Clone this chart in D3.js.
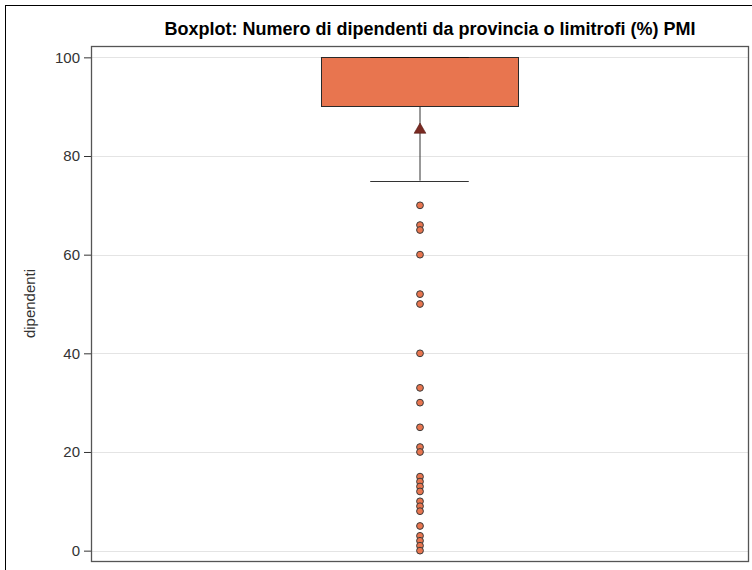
<!DOCTYPE html>
<html>
<head>
<meta charset="utf-8">
<script src="https://cdn.jsdelivr.net/npm/d3@7"></script>
<style>
  html, body { margin: 0; padding: 0; background: #fff; }
  svg { display: block; font-family: "Liberation Sans", Arial, sans-serif; }
</style>
</head>
<body>
<svg id="chart" width="752" height="570"></svg>
<script>
// ---- data ----
const categories = ["PMI"];
const boxQ1 = [90];
const boxMedian = [100];
const boxQ3 = [100];
const whiskerLow = [75];
const whiskerHigh = [100];
const meanValue = [85.3];
const outliers = [70, 66, 65, 60, 52, 50, 40, 33, 30, 25, 21, 20, 15, 14, 13, 12, 10, 9, 8, 5, 3, 2, 1, 0];
const yTicks = [0, 20, 40, 60, 80, 100];
const titleText = "Boxplot: Numero di dipendenti da provincia o limitrofi (%) PMI";
const yLabel = "dipendenti";

// ---- layout ----
const W = 752, H = 570;
const plot = { left: 91, top: 46, right: 748, bottom: 561 };
const svg = d3.select("#chart");

// outer frame
svg.append("rect").attr("x", 5.5).attr("y", 5.5).attr("width", W + 20).attr("height", H + 20)
  .attr("fill", "none").attr("stroke", "#000").attr("stroke-width", 1);

const y = d3.scaleLinear().domain([-2.1, 102.3]).range([plot.bottom, plot.top]);
const x = d3.scaleBand().domain(categories).range([plot.left, plot.right]).padding(0);

// gridlines
svg.append("g").selectAll("line").data(yTicks).join("line")
  .attr("x1", plot.left).attr("x2", plot.right)
  .attr("y1", d => Math.round(y(d)) + 0.5).attr("y2", d => Math.round(y(d)) + 0.5)
  .attr("stroke", "#e4e4e4").attr("stroke-width", 1);

// y axis
const yAxis = d3.axisLeft(y).tickValues(yTicks).tickSize(7).tickPadding(4).tickFormat(d3.format("d"));
const gy = svg.append("g").attr("transform", `translate(${plot.left},0)`).call(yAxis);
gy.select(".domain").remove();
gy.selectAll(".tick line").attr("stroke", "#333");
gy.selectAll(".tick text").attr("fill", "#333").style("font-size", "15px")
  .style("font-family", "'Liberation Sans', Arial, sans-serif");

// box
categories.forEach((c, i) => {
  const cx = x(c) + x.bandwidth() / 2;
  const bw = x.bandwidth() * 0.3;
  const capW = bw / 2;
  const g = svg.append("g");
  // whisker line
  g.append("line").attr("x1", cx + 0.5).attr("x2", cx + 0.5)
    .attr("y1", y(whiskerLow[i])).attr("y2", y(boxQ1[i]))
    .attr("stroke", "#333").attr("stroke-width", 1);
  g.append("line").attr("x1", cx - capW / 2).attr("x2", cx + capW / 2)
    .attr("y1", Math.round(y(whiskerLow[i])) + 0.5).attr("y2", Math.round(y(whiskerLow[i])) + 0.5)
    .attr("stroke", "#333").attr("stroke-width", 1);
  g.append("line").attr("x1", cx + 0.5).attr("x2", cx + 0.5)
    .attr("y1", y(whiskerHigh[i])).attr("y2", y(boxQ3[i]))
    .attr("stroke", "#333").attr("stroke-width", 1);
  // box rect
  g.append("rect").attr("x", Math.round(cx - bw / 2) + 0.5).attr("y", Math.round(y(boxQ3[i])) + 0.5)
    .attr("width", Math.round(bw)).attr("height", Math.round(y(boxQ1[i]) - y(boxQ3[i])))
    .attr("fill", "#E8754F").attr("stroke", "#2a2a2a").attr("stroke-width", 1);
  // median
  g.append("line").attr("x1", cx - bw / 2).attr("x2", cx + bw / 2)
    .attr("y1", Math.round(y(boxMedian[i])) + 0.5).attr("y2", Math.round(y(boxMedian[i])) + 0.5)
    .attr("stroke", "#2a2a2a").attr("stroke-width", 1);
  // upper cap
  g.append("line").attr("x1", cx - capW / 2).attr("x2", cx + capW / 2)
    .attr("y1", Math.round(y(whiskerHigh[i])) + 0.5).attr("y2", Math.round(y(whiskerHigh[i])) + 0.5)
    .attr("stroke", "#111").attr("stroke-width", 1.2);
  // mean triangle
  const tri = d3.symbol().type(d3.symbolTriangle).size(60);
  g.append("path").attr("d", tri())
    .attr("transform", `translate(${cx + 0.5},${y(meanValue[i])})`)
    .attr("fill", "#7A2A22").attr("stroke", "#5a1e18").attr("stroke-width", 0.6);
  // outliers
  g.selectAll("circle").data(outliers).join("circle")
    .attr("cx", cx + 0.5).attr("cy", d => y(d)).attr("r", 3.4)
    .attr("fill", "#E8754F").attr("stroke", "#3a3a3a").attr("stroke-width", 1);
});

// plot frame
svg.append("rect").attr("x", plot.left + 0.5).attr("y", plot.top + 0.5)
  .attr("width", plot.right - plot.left).attr("height", plot.bottom - plot.top)
  .attr("fill", "none").attr("stroke", "#555").attr("stroke-width", 1.3);

// title
svg.append("text").attr("x", 430).attr("y", 35)
  .attr("text-anchor", "middle").style("font-size", "18px").style("font-weight", "bold")
  .attr("fill", "#000").text(titleText);

// y label
svg.append("text").attr("transform", `translate(35,${(plot.top + plot.bottom) / 2}) rotate(-90)`)
  .attr("text-anchor", "middle").style("font-size", "15px").attr("fill", "#333").text(yLabel);
</script>
</body>
</html>
